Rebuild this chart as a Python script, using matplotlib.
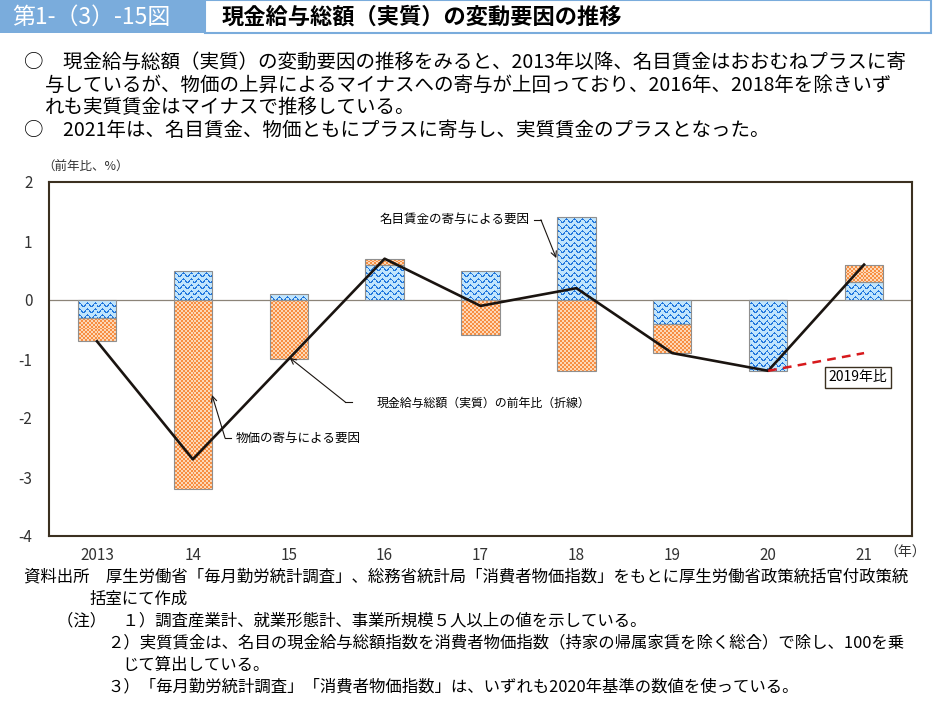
import numpy as np
import matplotlib
matplotlib.use("Agg")
import matplotlib.pyplot as plt
from matplotlib.patches import Rectangle

plt.rcParams["font.family"] = ["Noto Sans CJK JP", "DejaVu Sans"]

years = ["2013", "14", "15", "16", "17", "18", "19", "20", "21"]
nominal = [-0.3, 0.5, 0.1, 0.6, 0.5, 1.4, -0.4, -1.2, 0.3]
prices = [-0.4, -3.2, -1.0, 0.1, -0.6, -1.2, -0.5, 0.0, 0.3]
real_wage = [-0.7, -2.7, -1.0, 0.7, -0.1, 0.2, -0.9, -1.2, 0.6]
vs2019_years = ["20", "21"]
vs2019 = [-1.2, -0.9]

W, H = 933, 713
BLUE_BG = np.array([0.76, 0.90, 0.99])
BLUE_LN = np.array([0.13, 0.47, 0.87])
ORANGE = np.array([0.97, 0.56, 0.26])
ORANGE_LT = np.array([0.99, 0.85, 0.72])


def fx(px):
    return px / W


def fy(py):
    return 1 - py / H


def texture(kind, cols, rows):
    X, Y = np.meshgrid(cols, rows)
    if kind == "wave":
        dark = np.mod(Y + 1.6 * np.sin(2 * np.pi * X / 8.0), 6.0) < 1.6
        img = np.where(dark[..., None], BLUE_LN, BLUE_BG)
    else:
        on = (np.floor(X / 2) + np.floor(Y / 2)) % 2 == 0
        img = np.where(on[..., None], ORANGE, ORANGE_LT)
    return img


def fill_bars(ax, bars, kind):
    for p in bars:
        if p.get_height() == 0:
            continue
        x0, y0 = p.get_xy()
        x1, y1 = x0 + p.get_width(), y0 + p.get_height()
        (a, b), (c, d) = ax.transData.transform([(x0, y0), (x1, y1)])
        cols = np.arange(int(min(a, c)), int(np.ceil(max(a, c))))
        rows = np.arange(int(np.ceil(max(b, d))), int(min(b, d)), -1)
        img = texture(kind, cols, rows)
        im = ax.imshow(img, extent=(x0, x1, min(y0, y1), max(y0, y1)),
                       origin="upper", interpolation="nearest", aspect="auto", zorder=2)
        im.set_clip_path(p)


fig = plt.figure(figsize=(W / 100, H / 100), dpi=100)

# header
fig.patches.append(Rectangle((0, fy(33)), fx(205), 33 / H, transform=fig.transFigure,
                             facecolor="#7aacdc", edgecolor="none"))
fig.patches.append(Rectangle((fx(205), fy(33)), fx(726), 33 / H, transform=fig.transFigure,
                             facecolor="white", edgecolor="#7aacdc", linewidth=1.5))
fig.text(fx(12), fy(17), "第1-（3）-15図", color="white", fontsize=16.5, va="center")
fig.text(fx(222), fy(17), "現金給与総額（実質）の変動要因の推移", fontsize=16,
         fontweight="bold", va="center")

body = [
    (24, 62, "○　現金給与総額（実質）の変動要因の推移をみると、2013年以降、名目賃金はおおむねプラスに寄"),
    (45, 85, "与しているが、物価の上昇によるマイナスへの寄与が上回っており、2016年、2018年を除きいず"),
    (45, 107, "れも実質賃金はマイナスで推移している。"),
    (24, 130, "○　2021年は、名目賃金、物価ともにプラスに寄与し、実質賃金のプラスとなった。"),
]
for x, y, s in body:
    fig.text(fx(x), fy(y), s, fontsize=14, va="center")

# chart
ax = fig.add_axes([fx(49), fy(536), fx(912 - 49), (536 - 182) / H])
x = np.arange(len(years))
price_bottom = [n if n * p > 0 else 0 for n, p in zip(nominal, prices)]

nom_bars = ax.bar(x, nominal, width=0.4, facecolor="none", edgecolor="#8f8f8f",
                  linewidth=0.8, zorder=3)
price_bars = ax.bar(x, prices, width=0.4, bottom=price_bottom, facecolor="none",
                    edgecolor="#8f8f8f", linewidth=0.8, zorder=3)
ax.set_xlim(-0.5, 8.5)
ax.set_ylim(-4, 2)
fill_bars(ax, nom_bars, "wave")
fill_bars(ax, price_bars, "check")

ax.axhline(0, color="#8c8478", linewidth=0.9, zorder=1)
ax.plot(x, real_wage, color="#1a1410", linewidth=1.9, zorder=5)
vx = [years.index(y) for y in vs2019_years]
ax.plot(vx, vs2019, color="#d7191c", linewidth=1.8, linestyle=(0, (3.5, 2.5)), zorder=5)

ax.set_xlim(-0.5, 8.5)
ax.set_ylim(-4, 2)
ax.set_xticks(x)
ax.set_xticklabels(years, fontsize=11, color="#333333")
ax.set_yticks(range(-4, 3))
ax.set_yticklabels([str(v) for v in range(-4, 3)], fontsize=11, color="#333333")
ax.tick_params(length=0)
ax.tick_params(axis="y", pad=12)
ax.tick_params(axis="x", pad=8)
for s in ax.spines.values():
    s.set_color("#3b3020")
    s.set_linewidth(1.5)

fig.text(fx(42), fy(167), "（前年比、%）", fontsize=9, va="center", color="#333333")
fig.text(fx(884), fy(553), "（年）", fontsize=10, va="center", ha="left", color="#333333")

# annotations
arrow = dict(arrowstyle="->", color="#1a1410", linewidth=0.8, shrinkA=0, shrinkB=0)
ax.text(4.51, 1.36, "名目賃金の寄与による要因", fontsize=9, ha="right", va="center", zorder=6)
ax.plot([4.56, 4.63], [1.36, 1.36], color="#1a1410", linewidth=0.8, zorder=6)
ax.annotate("", xy=(4.79, 0.71), xytext=(4.63, 1.36), arrowprops=arrow, zorder=6)

ax.text(1.45, -2.34, "物価の寄与による要因", fontsize=9, ha="left", va="center", zorder=6)
ax.plot([1.336, 1.40], [-2.34, -2.34], color="#1a1410", linewidth=0.8, zorder=6)
ax.annotate("", xy=(1.20, -1.61), xytext=(1.336, -2.34), arrowprops=arrow, zorder=6)

ax.text(2.92, -1.75, "現金給与総額（実質）の前年比（折線）", fontsize=8.6, ha="left",
        va="center", zorder=6)
ax.plot([2.59, 2.66], [-1.73, -1.73], color="#1a1410", linewidth=0.8, zorder=6)
ax.annotate("", xy=(2.01, -0.98), xytext=(2.59, -1.73), arrowprops=arrow, zorder=6)

ax.text(7.94, -1.31, "2019年比", fontsize=10, ha="center", va="center", zorder=6,
        bbox=dict(boxstyle="square,pad=0.25", facecolor="white", edgecolor="#3b3020",
                  linewidth=1.0))

# footer
foot = [
    (24, 577, "資料出所　厚生労働省「毎月勤労統計調査」、総務省統計局「消費者物価指数」をもとに厚生労働省政策統括官付政策統"),
    (89, 599, "括室にて作成"),
    (57, 621, "（注）　１）調査産業計、就業形態計、事業所規模５人以上の値を示している。"),
    (107, 643, "２）実質賃金は、名目の現金給与総額指数を消費者物価指数（持家の帰属家賃を除く総合）で除し、100を乗"),
    (122, 665, "じて算出している。"),
    (107, 687, "３）「毎月勤労統計調査」「消費者物価指数」は、いずれも2020年基準の数値を使っている。"),
]
for x0, y0, s in foot:
    fig.text(fx(x0), fy(y0), s, fontsize=11.8, va="center")

fig.savefig("out.png", dpi=100)
